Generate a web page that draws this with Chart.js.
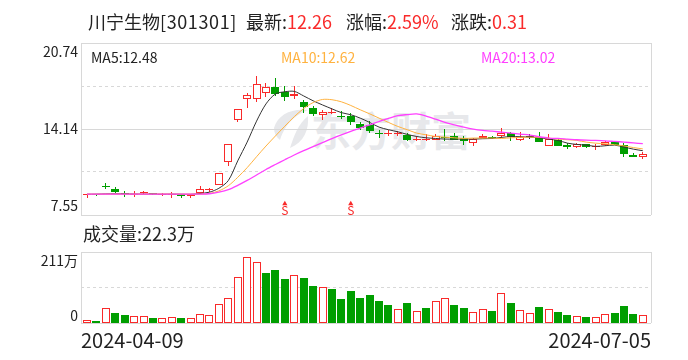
<!DOCTYPE html>
<html lang="zh">
<head>
<meta charset="utf-8">
<title>川宁生物</title>
<script src="https://cdn.jsdelivr.net/npm/chart.js@4"></script>
<style>
html,body{margin:0;padding:0;background:#fff;width:688px;height:360px;overflow:hidden}
body{position:relative;font-family:"Noto Sans CJK SC","Noto Sans",sans-serif;color:#222}
canvas{position:absolute;left:0;top:0}
.t{position:absolute;white-space:nowrap;line-height:1;font-size:18px}
.r{color:#f92a2a}
.m{font-size:14px}
#wm{position:absolute;left:311px;top:107px;font-size:40px;font-weight:700;line-height:44px;color:#e7e8eb;white-space:nowrap}
#logo{position:absolute;left:272px;top:106px}
</style>
</head>
<body>
<svg id="logo" width="38" height="44" viewBox="0 0 38 44"><path d="M2 22C6 8 20 2 36 4C24 9 14 16 8 34C4 31 2 27 2 22Z" fill="#e7e8eb"/><path d="M36 10C37 24 32 36 18 42C22 30 26 18 36 10Z" fill="#e7e8eb"/></svg>
<div id="wm">东方财富</div>
<canvas id="priceChart" width="688" height="360"></canvas>
<canvas id="volChart" width="688" height="360"></canvas>
<div class="t" style="left:88px;top:12px">川宁生物<span style="letter-spacing:.6px">[301301]</span></div>
<div class="t" style="left:246px;top:12px">最新:<span class="r">12.26</span></div>
<div class="t" style="left:346px;top:12px">涨幅:<span class="r">2.59%</span></div>
<div class="t" style="left:451px;top:12px">涨跌:<span class="r">0.31</span></div>
<div class="t m" style="left:91px;top:50px">MA5:12.48</div>
<div class="t m" style="left:281px;top:50px;color:#ffb23f">MA10:12.62</div>
<div class="t m" style="left:481px;top:50px;color:#ff40ff">MA20:13.02</div>
<div class="t" style="left:83px;top:224px">成交量:22.3万</div>
<script>
const dateLabels = ['2024-04-09', '2024-07-05'];
const priceTicks = [20.74, 17.44, 14.14, 10.85, 7.55];
const priceTickLabels = ['20.74', '', '14.14', '', '7.55'];
const volTicks = [211, 105.5, 0];
const volTickLabels = ['211万', '', '0'];

const open = [9.05,9.18,9.79,9.56,9.20,9.07,9.20,9.25,9.14,9.14,9.12,9.05,9.20,9.43,9.84,11.63,14.83,16.41,16.44,16.87,
  17.38,16.95,16.67,16.23,15.77,15.21,15.41,15.18,15.18,14.55,14.44,13.83,13.78,13.75,13.65,13.34,13.32,13.32,13.50,13.57,
  13.42,13.04,13.45,13.55,13.57,13.83,13.27,13.57,13.50,12.83,13.32,12.94,12.76,12.99,12.76,12.91,13.14,12.88,12.15,11.99];
const close = [9.18,9.10,9.66,9.28,9.15,9.18,9.33,9.18,9.16,9.16,9.07,9.10,9.53,9.56,10.76,12.99,15.67,16.74,17.59,17.36,
  16.80,16.57,16.85,15.80,15.31,15.44,15.47,15.13,14.72,14.24,14.01,13.78,13.86,13.83,13.32,13.40,13.37,13.57,13.45,13.32,
  13.19,13.34,13.63,13.50,13.83,13.50,13.52,13.57,13.11,13.34,12.81,12.73,12.96,12.73,12.81,13.17,12.88,12.19,12.00,12.26];
const low = [8.87,8.97,9.53,9.23,8.95,8.95,9.15,9.05,9.02,8.87,8.89,8.87,9.18,9.28,9.84,11.27,14.65,15.72,16.23,16.59,
  16.69,16.26,16.44,15.36,15.18,14.85,15.29,14.90,14.49,14.09,13.83,13.42,13.63,13.63,13.19,13.19,13.19,13.27,13.22,13.27,
  12.93,12.86,13.42,13.37,13.45,13.19,13.24,13.40,13.11,12.81,12.81,12.63,12.65,12.70,12.55,12.86,12.88,11.96,11.98,11.86];
const high = [9.18,9.18,9.99,9.69,9.41,9.38,9.38,9.25,9.25,9.33,9.15,9.15,9.79,9.64,10.76,12.99,15.67,16.90,18.23,17.66,
  18.07,17.41,17.46,16.39,15.93,15.62,15.75,15.52,15.36,14.65,14.75,14.09,14.04,13.98,13.83,13.57,13.73,13.75,14.16,13.86,
  13.57,13.45,13.78,13.63,14.21,13.91,13.88,13.78,13.91,13.78,13.45,13.09,13.09,13.00,13.01,13.19,13.14,13.06,12.32,12.35];
const ma5 = [9.14,9.15,9.17,9.18,9.17,9.16,9.15,9.15,9.14,9.15,9.14,9.13,9.20,9.30,9.60,10.19,11.70,13.14,14.75,16.07,
  16.83,17.00,17.03,16.68,16.31,15.99,15.69,15.40,15.24,14.98,14.65,14.29,14.09,13.93,13.73,13.57,13.47,13.42,13.37,13.37,
  13.37,13.37,13.40,13.42,13.50,13.57,13.55,13.52,13.47,13.37,13.27,13.06,12.96,12.91,12.81,12.86,12.91,12.76,12.60,12.48];
const ma10 = [9.15,9.15,9.15,9.15,9.15,9.15,9.15,9.16,9.16,9.16,9.15,9.15,9.15,9.20,9.40,9.79,10.44,11.18,12.02,12.84,
  13.61,14.36,15.09,15.71,16.17,16.41,16.39,16.23,15.95,15.62,15.31,14.98,14.65,14.34,14.09,13.83,13.70,13.57,13.52,13.47,
  13.42,13.45,13.45,13.45,13.42,13.47,13.50,13.52,13.50,13.45,13.37,13.32,13.27,13.14,13.06,13.01,12.94,12.85,12.72,12.62];
const ma20 = [9.15,9.15,9.15,9.15,9.15,9.15,9.15,9.15,9.15,9.15,9.15,9.15,9.15,9.18,9.30,9.49,9.82,10.20,10.62,11.04,
  11.42,11.79,12.15,12.48,12.79,13.10,13.41,13.70,13.97,14.22,14.47,14.72,14.96,15.17,15.25,15.30,15.13,14.90,14.65,14.47,
  14.29,14.14,14.04,13.98,13.90,13.83,13.75,13.68,13.55,13.45,13.42,13.37,13.32,13.29,13.27,13.24,13.19,13.14,13.08,13.02];
const volume = [9,7,45,30,24,21,21,16,15,18,16,15,27,24,55,74,137,196,181,149,
  157,131,143,134,110,107,101,71,95,74,83,65,53,42,59,36,45,65,74,53,
  45,33,42,36,89,59,39,30,48,42,33,24,21,18,18,27,30,50,27,22.3];
const volumeUp = [1,0,1,0,0,1,1,0,1,1,0,1,1,1,1,1,1,1,1,0,
  0,0,1,0,0,1,0,0,0,0,0,0,0,1,0,1,0,1,1,0,
  0,1,1,0,1,0,1,1,0,1,0,0,1,0,1,1,0,0,0,1];
const signalIndex = [21, 28];
const signalPrice = [8.41, 8.41];

const RED = '#f92a2a', GREEN = '#009e00', BLACK = '#222222';
const FONT = '"Noto Sans CJK SC","Noto Sans",sans-serif';
const idx = open.map((_, i) => i);
const candleColor = i => close[i] > open[i] ? RED : close[i] < open[i] ? GREEN : BLACK;

const snapBars = {
  id: 'snapBars',
  afterDatasetsUpdate(chart) {
    chart.data.datasets.forEach((ds, n) => {
      if (ds.type !== 'bar') return;
      chart.getDatasetMeta(n).data.forEach(el => {
        el.x = ds.wick ? Math.floor(el.x) + 0.5 : Math.round(el.x);
        let a = Math.round(el.y), b = Math.round(el.base);
        if (Math.abs(a - b) < 1) b = a + 1;
        el.y = a; el.base = b;
      });
    });
  }
};
const signalText = {
  id: 'signalText',
  afterDatasetsDraw(chart) {
    const c = chart.ctx, sx = chart.scales.x, sy = chart.scales.y;
    c.save();
    c.fillStyle = RED; c.font = '12px ' + FONT;
    c.textAlign = 'center'; c.textBaseline = 'middle';
    signalIndex.forEach((v, i) => c.fillText('S', sx.getPixelForValue(v), sy.getPixelForValue(signalPrice[i]) + 7));
    c.restore();
  }
};
function xAxis(showLabels) {
  return {
    type: 'linear', min: -0.637, max: 59.87, offset: false,
    afterBuildTicks: s => { s.ticks = [{ value: s.min }, { value: s.max }]; },
    afterFit: s => { s.height = showLabels ? 30 : 0; },
    border: { display: false },
    grid: { offset: false, color: '#d8d8d8', drawTicks: false, lineWidth: 1 },
    ticks: {
      display: showLabels, autoSkip: false, maxRotation: 0, minRotation: 0, align: 'inner', padding: 5,
      color: '#222', font: { family: FONT, size: 20 },
      callback: (v, i) => dateLabels[i]
    }
  };
}
function yAxis(vals, labels, min, max, shiftTop, shiftBottom) {
  const n = vals.length;
  return {
    min, max, position: 'left',
    afterBuildTicks: s => { s.ticks = vals.map(value => ({ value })); },
    afterFit: s => { s.width = 81; },
    border: { display: false, dash: c => (c.tick && labels[c.index] === '' ? [3, 3] : []) },
    grid: { drawTicks: false, color: '#d8d8d8', lineWidth: 1 },
    ticks: {
      autoSkip: false, padding: 3, color: '#222',
      font: c => ({ family: FONT, size: 14, lineHeight: c.index === 0 ? (shiftTop * 2) + 'px' : c.index === n - 1 ? (shiftBottom * 2) + 'px' : 1.2 }),
      callback: (v, i) => i === 0 ? ['', labels[0]] : i === n - 1 ? [labels[n - 1], ''] : labels[i]
    }
  };
}
new Chart(document.getElementById('priceChart'), {
  type: 'bar',
  data: { datasets: [
    { type: 'line', label: 'MA20', data: idx.map(i => ({ x: i, y: ma20[i] })), borderColor: '#ff40ff', borderWidth: 1.3, pointRadius: 0, tension: 0.3, order: 1 },
    { type: 'line', label: 'MA10', data: idx.map(i => ({ x: i, y: ma10[i] })), borderColor: '#ffb23f', borderWidth: 1, pointRadius: 0, tension: 0.3, order: 2 },
    { type: 'line', label: 'MA5', data: idx.map(i => ({ x: i, y: ma5[i] })), borderColor: '#333333', borderWidth: 1, pointRadius: 0, tension: 0.3, order: 3 },
    { type: 'bar', label: 'body', grouped: false, data: idx.map(i => ({ x: i, y: [open[i], close[i]] })),
      barPercentage: 1, categoryPercentage: 1, maxBarThickness: 8, inflateAmount: 0, borderSkipped: false, borderWidth: 1,
      borderColor: idx.map(candleColor),
      backgroundColor: idx.map(i => close[i] > open[i] ? '#ffffff' : candleColor(i)), order: 4 },
    { type: 'bar', label: 'wick', wick: true, grouped: false, data: idx.map(i => ({ x: i, y: [low[i], high[i]] })),
      barPercentage: 1, categoryPercentage: 1, maxBarThickness: 1, inflateAmount: 0, borderWidth: 0, backgroundColor: idx.map(candleColor), order: 5 },
    { type: 'scatter', label: 'signal', data: signalIndex.map((v, i) => ({ x: v, y: signalPrice[i] })),
      pointStyle: 'triangle', pointRadius: 3, backgroundColor: RED, borderColor: RED, borderWidth: 0, order: 0 }
  ] },
  options: {
    responsive: false, animation: false, events: [],
    layout: { padding: { top: 43, right: 37, bottom: 145, left: 0 } },
    plugins: { legend: { display: false }, tooltip: { enabled: false } },
    scales: { x: xAxis(false), y: yAxis(priceTicks, priceTickLabels, 7.55, 20.74, 9, 9) }
  },
  plugins: [snapBars, signalText]
});
new Chart(document.getElementById('volChart'), {
  type: 'bar',
  data: { datasets: [
    { type: 'bar', label: 'volume', grouped: false, data: idx.map(i => ({ x: i, y: volume[i] })),
      barPercentage: 1, categoryPercentage: 1, maxBarThickness: 8, inflateAmount: 0, borderSkipped: false, borderWidth: 1,
      borderColor: idx.map(i => volumeUp[i] ? RED : GREEN),
      backgroundColor: idx.map(i => volumeUp[i] ? '#ffffff' : GREEN) }
  ] },
  options: {
    responsive: false, animation: false, events: [],
    layout: { padding: { top: 252, right: 37, bottom: 7, left: 0 } },
    plugins: { legend: { display: false }, tooltip: { enabled: false } },
    scales: { x: xAxis(true), y: yAxis(volTicks, volTickLabels, 0, 211, 9, 7) }
  },
  plugins: [snapBars]
});
</script>
</body>
</html>
